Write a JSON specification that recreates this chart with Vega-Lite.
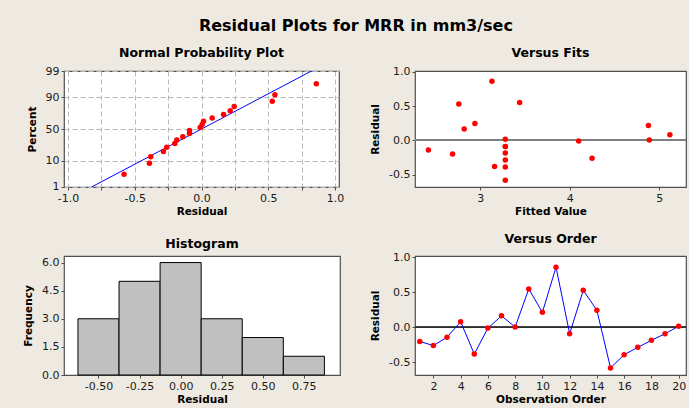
{
  "$schema": "https://vega.github.io/schema/vega-lite/v6.json",
  "background": "#EEEAE1",
  "padding": {"left": 22, "top": 18, "right": 2, "bottom": 2},
  "title": {"text": "Residual Plots for MRR in mm3/sec", "font": "DejaVu Sans", "fontSize": 16, "fontWeight": "bold", "color": "black", "anchor": "start", "frame": "bounds", "dx": 176, "offset": 12},
  "config": {
    "locale": {"number": {"decimal": ".", "thousands": ",", "grouping": [3], "currency": ["$", ""], "minus": "-"}},
    "view": {"fill": "white", "stroke": "#505050", "strokeWidth": 1.2},
    "axis": {"labelFont": "DejaVu Sans", "labelFontSize": 11, "labelColor": "#1a1a1a", "titleFont": "DejaVu Sans", "titleFontSize": 10.5, "titleFontWeight": "bold", "titleColor": "black", "domain": false, "tickColor": "#505050", "tickSize": 3, "grid": false, "labelPadding": 2, "titlePadding": 3, "labelOverlap": false},
    "axisY": {"titlePadding": 8},
    "title": {"font": "DejaVu Sans", "fontSize": 12.5, "fontWeight": "bold", "color": "black", "frame": "group", "anchor": "middle", "offset": 6}
  },
  "datasets": {
    "res": [
      {"obs": 1, "fit": 2.69, "resid": -0.2, "z": -0.5846},
      {"obs": 2, "fit": 4.25, "resid": -0.26, "z": -0.7374},
      {"obs": 3, "fit": 2.42, "resid": -0.14, "z": -0.3124},
      {"obs": 4, "fit": 5.12, "resid": 0.08, "z": 0.4447},
      {"obs": 5, "fit": 3.16, "resid": -0.38, "z": -1.1154},
      {"obs": 6, "fit": 4.1, "resid": -0.01, "z": 0.0615},
      {"obs": 7, "fit": 2.82, "resid": 0.165, "z": 0.5846},
      {"obs": 8, "fit": 4.89, "resid": 0.005, "z": 0.1853},
      {"obs": 9, "fit": 3.44, "resid": 0.55, "z": 1.383},
      {"obs": 10, "fit": 4.88, "resid": 0.215, "z": 0.7374},
      {"obs": 11, "fit": 3.13, "resid": 0.86, "z": 1.8214},
      {"obs": 12, "fit": 3.28, "resid": -0.09, "z": -0.1853},
      {"obs": 13, "fit": 2.76, "resid": 0.53, "z": 1.1154},
      {"obs": 14, "fit": 2.94, "resid": 0.245, "z": 0.9102},
      {"obs": 15, "fit": 3.28, "resid": -0.58, "z": -1.8214},
      {"obs": 16, "fit": 3.28, "resid": -0.39, "z": -1.383},
      {"obs": 17, "fit": 3.28, "resid": -0.285, "z": -0.9102},
      {"obs": 18, "fit": 3.28, "resid": -0.185, "z": -0.4447},
      {"obs": 19, "fit": 3.28, "resid": -0.09, "z": -0.0615},
      {"obs": 20, "fit": 3.28, "resid": 0.015, "z": 0.3124}
    ],
    "npline": [
      {"resid": -0.824, "z": -2.34},
      {"resid": 0.824, "z": 2.34}
    ],
    "hist": [
      {"lo": -0.625, "hi": -0.375, "n": 3},
      {"lo": -0.375, "hi": -0.125, "n": 5},
      {"lo": -0.125, "hi": 0.125, "n": 6},
      {"lo": 0.125, "hi": 0.375, "n": 3},
      {"lo": 0.375, "hi": 0.625, "n": 2},
      {"lo": 0.625, "hi": 0.875, "n": 1}
    ]
  },
  "columns": 2,
  "spacing": {"row": 14, "column": 24},
  "concat": [
    {
      "title": "Normal Probability Plot",
      "width": 275,
      "height": 116,
      "encoding": {
        "x": {"field": "resid", "type": "quantitative", "title": "Residual",
              "scale": {"domain": [-1.03, 1.03], "nice": false, "zero": false},
              "axis": {"values": [-1, -0.75, -0.5, -0.25, 0, 0.25, 0.5, 0.75, 1], "grid": true, "gridDash": [5, 3], "gridColor": "#b8b8b8", "gridWidth": 1,
                       "labelExpr": "abs(datum.value * 2 - round(datum.value * 2)) < 0.01 ? format(datum.value, '.1f') : ''"}},
        "y": {"field": "z", "type": "quantitative", "title": "Percent",
              "scale": {"domain": [-2.34, 2.34], "nice": false, "zero": false},
              "axis": {"values": [-2.3263, -1.2816, 0, 1.2816, 2.3263], "grid": true, "gridDash": [5, 3], "gridColor": "#b8b8b8", "gridWidth": 1,
                       "labelExpr": "datum.value < -2 ? '1' : datum.value < -1 ? '10' : datum.value < 1 ? '50' : datum.value < 2 ? '90' : '99'"}}
      },
      "layer": [
        {"data": {"name": "npline"}, "mark": {"type": "line", "color": "#0000FF", "strokeWidth": 1, "clip": true}},
        {"data": {"name": "res"}, "mark": {"type": "circle", "color": "#FF0000", "size": 30, "opacity": 1}}
      ]
    },
    {
      "title": "Versus Fits",
      "width": 271,
      "height": 116,
      "data": {"name": "res"},
      "layer": [
        {"mark": {"type": "rule", "color": "#808080", "strokeWidth": 1.5},
         "encoding": {"y": {"datum": 0, "type": "quantitative", "title": "Residual",
                            "scale": {"domain": [-0.68, 1.01], "nice": false, "zero": false},
                            "axis": {"values": [-0.5, 0, 0.5, 1], "format": ".1f"}}}},
        {"mark": {"type": "circle", "color": "#FF0000", "size": 30, "opacity": 1},
         "encoding": {
           "x": {"field": "fit", "type": "quantitative", "title": "Fitted Value",
                 "scale": {"domain": [2.27, 5.3], "nice": false, "zero": false},
                 "axis": {"values": [3, 4, 5], "format": "d"}},
           "y": {"field": "resid", "type": "quantitative", "title": "Residual",
                 "axis": {"values": [-0.5, 0, 0.5, 1], "format": ".1f"}}
         }}
      ]
    },
    {
      "title": "Histogram",
      "width": 276,
      "height": 119,
      "data": {"name": "hist"},
      "mark": {"type": "bar", "color": "#C0C0C0", "stroke": "black", "strokeWidth": 1},
      "encoding": {
        "x": {"field": "lo", "type": "quantitative", "title": "Residual",
              "scale": {"domain": [-0.71, 0.97], "nice": false, "zero": false},
              "axis": {"values": [-0.5, -0.25, 0, 0.25, 0.5, 0.75], "format": ".2f"}},
        "x2": {"field": "hi"},
        "y": {"field": "n", "type": "quantitative", "title": "Frequency",
              "scale": {"domain": [0, 6.35], "nice": false},
              "axis": {"values": [0, 1.5, 3, 4.5, 6], "format": ".1f"}},
        "y2": {"datum": 0}
      }
    },
    {
      "title": "Versus Order",
      "width": 271,
      "height": 119,
      "data": {"name": "res"},
      "layer": [
        {"mark": {"type": "rule", "color": "#303030", "strokeWidth": 1},
         "encoding": {"y": {"datum": 0, "type": "quantitative", "title": "Residual",
                            "scale": {"domain": [-0.68, 1.02], "nice": false, "zero": false},
                            "axis": {"values": [-0.5, 0, 0.5, 1], "format": ".1f"}}}},
        {"mark": {"type": "line", "color": "#0000FF", "strokeWidth": 1},
         "encoding": {
           "x": {"field": "obs", "type": "quantitative", "title": "Observation Order",
                 "scale": {"domain": [0.65, 20.54], "nice": false, "zero": false},
                 "axis": {"values": [2, 4, 6, 8, 10, 12, 14, 16, 18, 20], "format": "d"}},
           "y": {"field": "resid", "type": "quantitative", "title": "Residual",
                 "axis": {"values": [-0.5, 0, 0.5, 1], "format": ".1f"}}
         }},
        {"mark": {"type": "circle", "color": "#FF0000", "size": 30, "opacity": 1},
         "encoding": {
           "x": {"field": "obs", "type": "quantitative", "title": "Observation Order",
                 "axis": {"values": [2, 4, 6, 8, 10, 12, 14, 16, 18, 20], "format": "d"}},
           "y": {"field": "resid", "type": "quantitative", "title": "Residual",
                 "axis": {"values": [-0.5, 0, 0.5, 1], "format": ".1f"}}
         }}
      ]
    }
  ]
}
